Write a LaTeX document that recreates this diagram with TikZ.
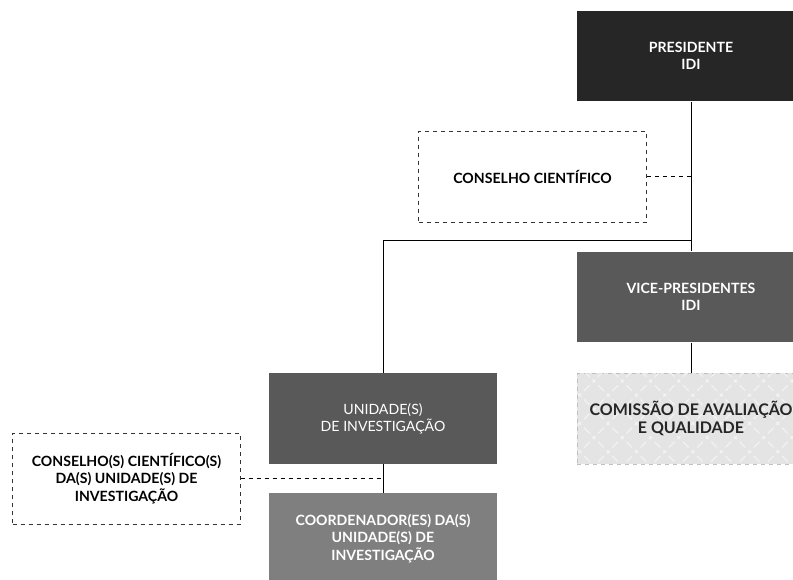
\documentclass[tikz,border=0pt]{standalone}
\usepackage{fontspec}
\setmainfont{Lato}
\usetikzlibrary{patterns.meta}
\definecolor{boxdark}{HTML}{262626}
\definecolor{boxmid}{HTML}{595959}
\definecolor{boxlight}{HTML}{7F7F7F}
\definecolor{boxpale}{HTML}{E4E4E4}
\begin{document}
\begin{tikzpicture}[x=0.75pt,y=-0.75pt,
  unit/.style={minimum width=171pt,minimum height=68pt,align=center,
    font=\fontsize{10.6}{13}\selectfont\bfseries,inner sep=2pt},
  solidbox/.style={unit,fill=#1,text=white},
  dashbox/.style={unit,draw=black!80,dashed,line width=0.5pt},
  link/.style={black,line width=0.6pt},
  dashlink/.style={black,dashed,line width=0.6pt}]
\useasboundingbox (0,0) rectangle (793,579);
%%% top of the chart
\node[solidbox=boxdark] (pres) at (691,56) {PRESIDENTE\\IDI};
\node[dashbox] (cc) at (532.5,176.5) {CONSELHO CIENTÍFICO};
\node[solidbox=boxmid] (vice) at (691,297) {VICE-PRESIDENTES\\IDI};
% comissao: pale box with a diamond lattice
\node[unit,fill=boxpale,draw=black!25,dashed,line width=0.5pt,
  postaction={pattern={Lines[angle=45,distance=15pt,line width=0.8pt]},pattern color=white!60!boxpale},
  postaction={pattern={Lines[angle=-45,distance=15pt,line width=0.8pt]},pattern color=white!60!boxpale},
  font=\fontsize{12}{14}\selectfont\bfseries,text=black!85] (cav) at (691,418.5) {COMISSÃO DE AVALIAÇÃO\\E QUALIDADE};
%%% the research units
\node[solidbox=boxmid,font=\fontsize{10.6}{13}\selectfont] (ui) at (383,418.5) {UNIDADE(S)\\DE INVESTIGAÇÃO};
\node[solidbox=boxlight] (coord) at (383,538.5) {COORDENADOR(ES) DA(S)\\UNIDADE(S) DE\\INVESTIGAÇÃO};
\node[dashbox] (ccui) at (126.5,478.5) {CONSELHO(S) CIENTÍFICO(S)\\DA(S) UNIDADE(S) DE\\INVESTIGAÇÃO};
% connectors
\coordinate (split) at (pres.south |- 0,240);
\draw[link] (pres.south) -- (vice.north);
\draw[link] (vice.south) -- (cav.north);
\draw[link] (split) -| (ui.north);
\draw[link] (ui.south) -- (coord.north);
\draw[dashlink] (cc.east) -- (cc.east -| pres.south);
\draw[dashlink] (ccui.east) -- (ccui.east -| ui.south);
\end{tikzpicture}
\end{document}
